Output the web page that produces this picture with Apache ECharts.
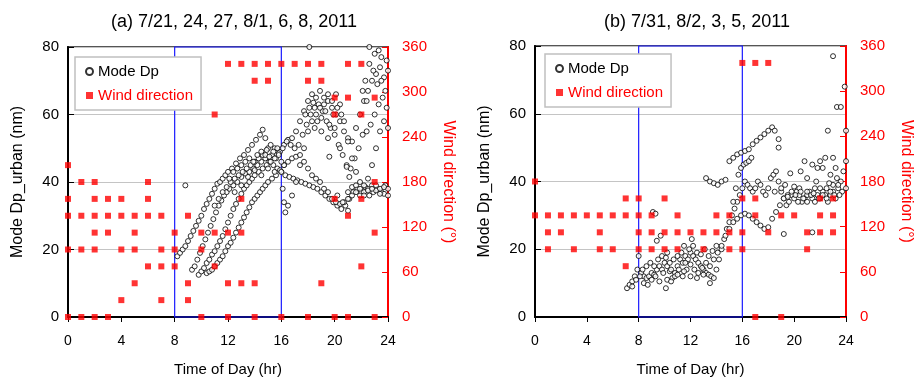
<!DOCTYPE html>
<html>
<head>
<meta charset="utf-8">
<script src="https://cdn.jsdelivr.net/npm/echarts@6/dist/echarts.min.js"></script>
<style>
  html, body { margin: 0; padding: 0; background: #fff; }
  #chart { width: 915px; height: 383px; }
</style>
</head>
<body>
<div id="chart"></div>
<script>
// x ticks (hours) and axis tick labels
const hourTicks = [0, 4, 8, 12, 16, 20, 24];
const dpTicks = [0, 20, 40, 60, 80];
const dirTicks = [0, 60, 120, 180, 240, 300, 360];

// panel (a) mode Dp as [hour, nm]
const dpA1 = [[8.2,18],[8.4,19],[8.6,20],[8.8,21],[9.0,22.5],[9.2,24],[9.4,25.5],[9.6,27],[9.8,28.5],[10.0,30],[10.2,32],[10.4,33.5],[10.6,35],[10.8,36.5],[11.0,38],[11.2,39.5],[11.4,40],[11.6,41],[11.8,42],[12.0,43],[12.3,44],[12.6,45.5],[12.9,47],[13.2,48],[13.5,49.5],[13.8,51],[14.1,52.5],[14.4,54],[14.6,55.5],[14.8,53],[15.0,50],[15.3,48],[15.6,47],[15.9,49],[16.2,51],[16.5,52.5],[16.8,53],[17.1,55],[17.4,58],[17.7,61],[18.0,64],[18.3,66],[18.6,65],[18.9,67],[19.2,63],[19.5,64],[19.8,62],[20.1,60],[20.4,58],[20.7,55],[21.0,53],[21.3,52],[21.6,56],[21.9,60],[22.2,64],[22.5,67],[22.8,70],[23.1,72],[23.4,74],[23.7,71],[24.0,73]];
const dpA2 = [[9.3,14],[9.5,15],[9.7,17],[9.9,19],[10.1,21],[10.3,23],[10.5,25],[10.7,27],[10.9,29],[11.1,31],[11.3,33],[11.5,34.5],[11.7,36],[11.9,37],[12.1,38],[12.4,39],[12.7,40],[13.0,41.5],[13.3,42.5],[13.6,43],[13.9,44],[14.2,45],[14.5,46],[14.8,47],[15.1,46],[15.4,45],[15.7,44],[16.0,43],[16.3,42],[16.6,41.5],[16.9,41],[17.2,40.5],[17.5,40],[17.8,39.5],[18.1,39],[18.4,38.5],[18.7,38],[19.0,37],[19.3,36],[19.6,35],[19.9,34],[20.2,33],[20.5,32],[20.8,33],[21.1,35],[21.4,37],[21.7,38],[22.0,37],[22.3,38.5],[22.6,36],[22.9,37],[23.2,38],[23.5,37],[23.8,39]];
const dpA3 = [[9.8,12.5],[10.0,13.5],[10.2,14.5],[10.4,16],[10.6,17],[10.8,18.5],[11.0,19.5],[11.2,21],[11.4,22.5],[11.6,24],[11.8,26],[12.0,28],[12.2,30],[12.4,32],[12.6,33.5],[12.8,35],[13.0,36.5],[13.2,38],[13.4,39],[13.6,40],[13.8,41],[14.0,42],[14.3,43],[14.6,44],[14.9,45],[15.2,46],[15.5,47],[15.8,48.5],[16.1,50],[16.4,52],[16.7,51],[17.0,50],[17.3,51],[17.6,54],[17.9,57],[18.2,60],[18.5,62],[18.8,63],[19.1,61],[19.4,58],[19.7,56],[20.0,54],[20.3,51],[20.6,48],[20.9,45],[21.2,44],[21.5,47],[21.8,50],[22.1,54],[22.4,55],[22.7,57],[23.0,60],[23.3,63],[23.6,65],[23.9,62]];
const dpA4 = [[10.4,13],[10.6,13.5],[10.8,14],[11.0,15],[11.2,16],[11.4,17],[11.6,18],[11.8,19.5],[12.0,21],[12.2,22],[12.4,23.5],[12.6,25],[12.8,26.5],[13.0,28],[13.2,29.5],[13.4,31],[13.6,32.5],[13.8,34],[14.0,35],[14.2,36],[14.4,37],[14.6,38],[14.8,39],[15.0,40],[15.3,41],[15.6,42],[15.9,43.5],[16.2,45],[16.5,46],[16.8,47],[17.1,47.5],[17.4,48],[17.7,46],[18.0,44],[18.3,42],[18.6,41],[18.9,40],[19.2,38],[19.5,37],[19.8,35],[20.1,34],[20.4,33.5],[20.7,34],[21.0,35],[21.3,36],[21.6,37],[21.9,36],[22.2,37],[22.5,38],[22.8,39],[23.1,37.5],[23.4,38],[23.7,36.5],[24.0,38]];
const dpA5 = [[11.0,33],[11.3,35],[11.6,37],[11.9,38.5],[12.2,40],[12.5,41],[12.8,42],[13.1,43],[13.4,44],[13.7,45],[14.0,46],[14.3,47],[14.6,48],[14.9,49.5],[15.2,51],[15.5,50],[15.8,48],[16.0,43],[16.1,38],[16.2,34],[16.3,31],[16.5,33],[16.8,36],[17.1,40],[17.4,45],[17.7,50],[18.0,55],[18.3,58],[18.6,60],[18.9,62],[19.2,65],[19.5,66],[19.8,64],[20.1,66],[20.4,63],[20.7,58],[21.0,52],[21.3,47],[21.6,43],[21.9,40],[22.2,39],[22.5,41],[22.8,45],[23.1,50],[23.4,55],[23.7,58],[24.0,56]];
const dpA6 = [[8.8,39],[18.1,80],[22.6,80],[23.3,79],[16.2,45],[19.6,47.5],[20.2,36],[20.6,34],[21.0,31.5],[21.1,41.5],[20.9,44.5],[22.1,67],[22.4,64],[23.9,76],[23.5,77],[23.0,78]];
const dpA7 = [[12.1,41],[12.4,43],[12.7,44],[13.0,45],[13.3,46],[13.6,47],[13.9,46],[14.2,48],[14.5,49],[14.8,48],[15.1,47.5],[15.4,49],[15.7,50],[16.0,46],[12.5,37],[13.0,39],[13.5,41.5],[14.0,43.5],[14.5,42],[15.0,44],[15.5,43],[17.8,60],[18.1,62],[18.4,63.5],[18.7,58],[19.0,59],[19.3,61],[19.6,57],[19.9,60],[20.2,62],[20.5,60],[18.5,56],[19.0,55],[19.5,53],[20.0,56],[20.4,50],[21.0,37],[21.3,38.5],[21.6,39],[21.9,38],[22.2,36],[22.5,37.5],[22.8,38],[23.1,39],[23.4,36.5],[23.7,38.5],[24.0,36],[22.6,75],[22.9,73],[23.2,69],[23.5,70],[23.8,67],[22.3,70]];

// panel (b) mode Dp
const dpB1 = [[7.1,8.5],[7.3,9.5],[7.5,10.5],[7.7,12],[7.9,14],[8.0,18],[8.2,13],[8.4,12],[8.6,11.5],[8.8,12],[9.0,13],[9.2,12.5],[9.4,14],[9.6,15],[9.8,14],[10.0,16],[10.2,15],[10.4,13.5],[10.6,11.5],[10.8,13],[11.0,15],[11.2,17],[11.4,16],[11.6,18],[11.8,17],[12.0,19],[12.2,18],[12.4,17],[12.6,16],[12.8,15],[13.0,14],[13.2,13],[13.4,12.5],[13.6,12],[13.8,11.5],[14.0,14],[14.2,17],[14.4,20],[14.6,23],[14.8,26],[15.0,28],[15.2,30],[15.4,32],[15.6,34],[15.8,36],[16.0,38],[16.2,40],[16.4,39],[16.6,38],[16.8,37],[17.0,38],[17.2,40],[17.4,39],[17.6,37],[17.8,36],[18.0,38],[18.2,41],[18.4,42],[18.6,43],[18.8,40],[19.0,37],[19.2,35],[19.4,33],[19.6,34],[19.8,36],[20.0,35],[20.2,37],[20.4,36],[20.6,34],[20.8,35],[21.0,36],[21.2,37],[21.4,35],[21.6,34],[21.8,36],[22.0,35],[22.2,37],[22.4,36],[22.6,34],[22.8,36],[23.0,37],[23.2,35],[23.4,38],[23.6,40],[23.8,43],[24.0,46]];
const dpB2 = [[7.5,9],[7.8,11],[8.1,12],[8.4,10],[8.7,9.5],[9.0,11],[9.3,12],[9.6,10.5],[9.9,13],[10.2,11],[10.5,10.5],[10.8,12],[11.1,14],[11.4,12],[11.7,14],[12.0,15.5],[12.3,14],[12.6,13],[12.9,14.5],[13.2,16],[13.5,15],[13.8,17],[14.1,19],[14.4,21],[14.7,24],[15.0,26],[15.3,28],[15.6,29],[15.9,30],[16.2,30.5],[16.5,30],[16.8,29],[17.1,28],[17.4,27],[17.7,26],[18.0,26.5],[18.3,29],[18.6,31],[18.9,33],[19.2,35],[19.5,36],[19.8,37],[20.1,36],[20.4,38],[20.7,35],[21.0,37],[21.3,36],[21.6,38],[21.9,35],[22.2,36],[22.5,38],[22.8,37],[23.1,36],[23.4,39],[23.7,37],[24.0,38]];
const dpB3 = [[13.2,41],[13.5,40],[13.8,39.5],[14.1,39],[14.4,40],[14.7,40.5],[15.0,46],[15.3,47],[15.6,48],[15.9,48.5],[16.2,49],[16.5,49.5],[16.8,51],[17.1,52],[17.4,53],[17.7,54],[18.0,55],[18.3,56],[18.5,55],[18.8,52.5]];
const dpB4 = [[15.3,34],[15.5,38],[15.7,42],[15.9,44],[16.1,45],[16.3,45.5],[16.5,46],[16.7,47]];
const dpB5 = [[9.1,31],[9.3,30.5],[9.4,22.5],[9.7,24],[10.2,19],[11.5,21],[12.1,23],[13.5,10],[10.1,8.5],[18.8,50],[19.2,24.5],[21.4,25],[21.4,45],[22.0,46],[23.0,47],[22.6,55],[23.0,77],[23.3,62],[23.6,62],[23.9,68],[24.0,55],[19.7,42.4],[20.5,43],[21.0,41],[22.2,44],[22.8,42],[23.2,44]];
const dpB6 = [[8.3,14],[8.6,15],[8.9,16],[9.2,15],[9.5,17],[9.8,18],[10.1,17.5],[10.4,16],[10.7,17],[11.0,18],[11.3,19],[11.6,16],[11.9,20],[12.2,21],[12.5,19],[12.8,18.5],[13.1,20],[13.4,18],[13.7,19.5],[14.0,21],[10.5,14],[11.0,12.5],[11.5,13.5],[12.0,12],[12.5,11.5],[13.0,12.5],[18.5,37],[19.0,38],[19.5,35.5],[20.0,38.5],[20.5,37],[21.0,34],[21.5,36.5],[22.0,38],[22.5,35],[23.0,39],[23.5,36],[19.3,39],[20.3,34],[21.7,40],[22.7,39.5],[23.3,41],[20.8,46],[21.8,44],[22.4,47]];

// hourly wind directions (deg), index = hour of day
const windA = [
  [0,90,135,157.5,202.5],[0,90,135,180],[0,90,112.5,135,157.5,180],[0,112.5,135,157.5],
  [22.5,90,135,157.5],[45,90,112.5,135],[67.5,135,157.5,180],[22.5,67.5,90,135],
  [67.5,90,112.5],[22.5,45,135],[0,90,112.5],[67.5,112.5,270],
  [0,45,112.5,337.5],[45,112.5,157.5,337.5],[0,45,315,337.5],[315,337.5],
  [0,337.5],[337.5],[0,315,337.5],[45,315,337.5],
  [0,157.5,270,292.5],[0,135,292.5,337.5],[67.5,157.5,270,337.5],[0,112.5,180,292.5]
];
const windB = [
  [135,180],[90,112.5,135],[112.5,135],[90,135],
  [135],[90,112.5,135],[90,135],[67.5,135,157.5],
  [90,112.5,135,157.5],[90,112.5,135],[90,112.5,157.5],[90,112.5,135],
  [112.5],[90,112.5],[112.5,135],[90,112.5,135],
  [90,112.5,157.5,337.5],[0,135,157.5,337.5],[112.5,337.5],[0,135],
  [135],[90,112.5],[112.5,135,157.5],[112.5,135,157.5]
];

const toPoints = (rows) => rows.flatMap((dirs, h) => dirs.map(d => [h, d]));
const dpA = [].concat(dpA1, dpA2, dpA3, dpA4, dpA5, dpA6, dpA7);
const dpB = [].concat(dpB1, dpB2, dpB3, dpB4, dpB5, dpB6);

const font = 'Liberation Sans, Arial, sans-serif';
const grids = [
  { left: 68, top: 47, width: 320, height: 270 },
  { left: 535, top: 46, width: 314, height: 271 }
];

const xAxis = grids.map((g, i) => ({
  gridIndex: i, type: 'value', min: 0, max: 24, interval: 4,
  name: 'Time of Day (hr)', nameLocation: 'middle', nameGap: 45,
  nameTextStyle: { fontSize: 15, color: '#000' },
  axisLine: { lineStyle: { color: '#000', width: 2 } },
  axisTick: { inside: false, length: 5, lineStyle: { color: '#000' } },
  axisLabel: { fontSize: 14, color: '#000', margin: 17 },
  splitLine: { show: false }
}));

const yAxis = [];
grids.forEach((g, i) => {
  yAxis.push({
    gridIndex: i, type: 'value', position: 'left', min: 0, max: 80, interval: 20,
    name: 'Mode Dp_urban (nm)', nameLocation: 'middle', nameGap: 42, nameRotate: 90,
    nameTextStyle: { fontSize: 16, color: '#000' },
    axisLine: { show: true, lineStyle: { color: '#000', width: 2 } },
    axisTick: { inside: true, length: 6, lineStyle: { color: '#000' } },
    axisLabel: { fontSize: 15, color: '#000', margin: 9 },
    splitLine: { show: true, lineStyle: { color: '#c4c4c4', width: 1 } }
  });
  yAxis.push({
    gridIndex: i, type: 'value', position: 'right', min: 0, max: 360, interval: 60,
    name: 'Wind direction (°)', nameLocation: 'middle', nameGap: 52, nameRotate: -90,
    nameTextStyle: { fontSize: 16, color: '#ff0000' },
    axisLine: { show: true, lineStyle: { color: '#ff0000', width: 2 } },
    axisTick: { inside: true, length: 6, lineStyle: { color: '#ff0000' } },
    axisLabel: { fontSize: 15, color: '#ff0000', margin: 14 },
    splitLine: { show: false }
  });
});

const boxArea = {
  silent: true,
  itemStyle: { color: 'rgba(0,0,0,0)', borderColor: '#1a1aff', borderWidth: 1.2 },
  data: [[{ xAxis: 8, yAxis: 0 }, { xAxis: 16, yAxis: 80 }]]
};

function dpSeries(data, i) {
  return {
    name: 'Mode Dp', type: 'scatter', xAxisIndex: i, yAxisIndex: i * 2,
    data: data, symbol: 'circle', symbolSize: 5,
    itemStyle: { color: '#fff', borderColor: '#000', borderWidth: 1 },
    markArea: boxArea, z: 3
  };
}
function windSeries(data, i) {
  return {
    name: 'Wind direction', type: 'scatter', xAxisIndex: i, yAxisIndex: i * 2 + 1,
    data: data, symbol: 'rect', symbolSize: 6,
    itemStyle: { color: '#ff0000' }, z: 4
  };
}

const legendBase = {
  orient: 'vertical', itemWidth: 7, itemHeight: 7, itemGap: 9,
  padding: [7, 8, 7, 10], backgroundColor: '#fff',
  borderColor: '#c0c0c0', borderWidth: 1.5, selectedMode: false,
  textStyle: { fontSize: 15 },
  data: [
    { name: 'Mode Dp', icon: 'circle', textStyle: { color: '#000' } },
    { name: 'Wind direction', icon: 'rect', textStyle: { color: '#ff0000' } }
  ]
};

const chart = echarts.init(document.getElementById('chart'));
chart.setOption({
  animation: false,
  backgroundColor: '#fff',
  textStyle: { fontFamily: font },
  title: [
    { text: '(a) 7/21, 24, 27, 8/1, 6, 8, 2011', left: 229, top: 8, textAlign: 'center',
      textStyle: { fontSize: 18, fontWeight: 'normal', color: '#000' } },
    { text: '(b) 7/31, 8/2, 3, 5, 2011', left: 692, top: 8, textAlign: 'center',
      textStyle: { fontSize: 18, fontWeight: 'normal', color: '#000' } }
  ],
  legend: [
    Object.assign({}, legendBase, { left: 75, top: 57 }),
    Object.assign({}, legendBase, { left: 545, top: 54 })
  ],
  grid: grids.map(g => Object.assign({ show: true, borderColor: '#555', borderWidth: 2 }, g)),
  xAxis: xAxis,
  yAxis: yAxis,
  series: [
    dpSeries(dpA, 0), windSeries(toPoints(windA), 0),
    dpSeries(dpB, 1), windSeries(toPoints(windB), 1)
  ]
});
</script>
</body>
</html>
